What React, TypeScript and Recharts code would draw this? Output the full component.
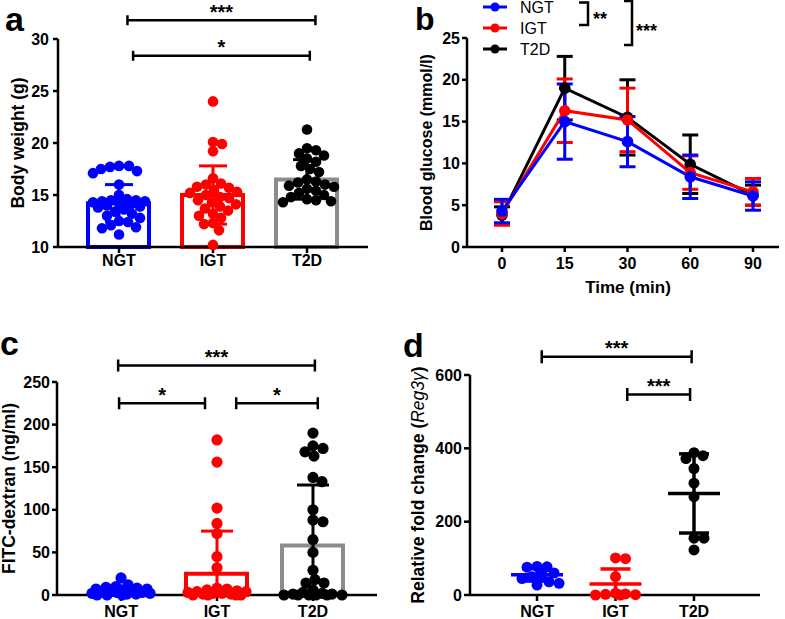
import React from "react";
import {
  Bar,
  Cell,
  ComposedChart,
  ErrorBar,
  Label,
  Legend,
  Line,
  LineChart,
  ReferenceLine,
  Scatter,
  XAxis,
  YAxis,
} from "recharts";

const groups = ["NGT", "IGT", "T2D"];
const dotColors = ["#0000ff", "#ff0000", "#000000"];
const barColors = ["#0000ff", "#ff0000", "#8c8c8c"];

// a: body weight (g)
const weightNGT = [17.8, 17.8, 17.7, 17.5, 17.3, 17.1, 16.0, 15.0, 14.6, 14.5, 14.5, 14.4, 14.4, 14.3, 14.2, 14.1, 14.0, 13.9, 13.8, 13.6, 13.4, 13.2, 13.0, 12.8, 12.5, 12.4, 12.1, 11.9, 11.8, 11.2];
const weightIGT = [24.0, 20.1, 19.9, 19.2, 16.6, 16.1, 16.0, 15.8, 15.7, 15.5, 15.3, 15.2, 15.0, 14.8, 14.7, 14.5, 14.3, 14.1, 13.9, 13.7, 13.5, 13.2, 13.0, 12.8, 12.3, 12.2, 11.6, 10.2];
const weightT2D = [21.3, 19.5, 19.3, 19.0, 18.8, 18.5, 18.2, 17.8, 17.5, 17.2, 16.5, 16.3, 16.2, 16.0, 15.9, 15.8, 15.6, 15.4, 15.2, 15.0, 14.8, 14.6, 14.5, 14.4, 14.3];
const weightMean = [14.2, 15.0, 16.5];
const weightSd = [1.8, 2.8, 1.9];

// b: blood glucose during OGTT (mmol/l)
const ogttTimes = ["0", "15", "30", "60", "90"];
const glucoseNGT = [4.3, 15.0, 12.6, 8.4, 6.1];
const glucoseNGTSd = [1.4, 4.5, 3.0, 2.6, 1.7];
const glucoseIGT = [4.0, 16.3, 15.2, 8.9, 6.6];
const glucoseIGTSd = [1.4, 3.8, 3.8, 2.0, 1.6];
const glucoseT2D = [3.8, 19.0, 15.5, 9.9, 6.2];
const glucoseT2DSd = [1.0, 3.8, 4.5, 3.5, 1.2];

// c: FITC-dextran (ng/ml)
const fitcNGT = [20, 12, 10, 9, 8, 7, 7, 6, 5, 5, 4, 3, 3, 2, 2, 1, 1, 0, 0, 0];
const fitcIGT = [182, 156, 102, 84, 72, 45, 32, 8, 7, 6, 5, 4, 4, 3, 2, 2, 1, 1, 0, 0, 0, 0];
const fitcT2D = [190, 175, 172, 168, 163, 138, 133, 100, 88, 86, 65, 50, 29, 18, 14, 14, 6, 3, 2, 1, 1, 0, 0, 0, 0, 0, 0];
const fitcMean = [4, 25, 58];
const fitcSd = [5, 50, 71];

// d: Reg3g relative fold change
const reg3NGT = [78, 77, 76, 60, 55, 50, 45, 36, 32, 27];
const reg3IGT = [101, 99, 50, 5, 3, 2, 1, 0, 0];
const reg3T2D = [388, 380, 372, 345, 305, 268, 155, 155, 123];
const reg3Mean = [55, 30, 277];
const reg3Sd = [17, 41, 108];

// significance brackets (group index from/to, y in data units)
const bracketsA = [
  { from: 0.09, to: 2.09, y: 31.8, label: "***" },
  { from: 0.15, to: 2.03, y: 28.4, label: "*" },
];
const bracketsC = [
  { from: -0.03, to: 2.02, y: 269.5, label: "***" },
  { from: -0.02, to: 0.875, y: 225, label: "*" },
  { from: 1.2, to: 2.05, y: 225, label: "*" },
];
const bracketsD = [
  { from: 0.06, to: 1.97, y: 650, label: "***" },
  { from: 1.15, to: 1.95, y: 547, label: "***" },
];

const axisLine = { stroke: "#000", strokeWidth: 2.5 };
const tickStyle = { fill: "#000", fontSize: 16, fontWeight: 700 };

// simple beeswarm so dots with close values spread sideways
function swarm(values: number[], center: number, pxY: number, pxX: number, r: number, maxHalf: number) {
  const placed: { dx: number; py: number }[] = [];
  return values.map((v) => {
    const py = v * pxY;
    let chosen: number | null = null;
    let bestDx = 0;
    let bestGap = -1;
    for (let k = 0; k <= maxHalf && chosen === null; k += 1) {
      for (const dx of k === 0 ? [0] : [k, -k]) {
        let gap = Infinity;
        for (const p of placed) gap = Math.min(gap, Math.hypot(p.dx - dx, p.py - py));
        if (gap >= 2 * r * 0.85) {
          chosen = dx;
          break;
        }
        if (gap > bestGap) {
          bestGap = gap;
          bestDx = dx;
        }
      }
    }
    const dx = chosen === null ? bestDx : chosen;
    placed.push({ dx, py });
    return { x: center + dx / pxX, y: v };
  });
}

const dotShape = (color: string, r: number) => (props: any) => (
  <circle cx={props.cx} cy={props.cy} r={r} fill={color} />
);
const emptyShape = () => <g />;
const meanShape = (color: string) => (props: any) => (
  <line x1={props.cx - 26} x2={props.cx + 26} y1={props.cy} y2={props.cy} stroke={color} strokeWidth={3.5} />
);

const bracketShape = (label: string, cap: number) => (p: any) => (
  <g>
    <path
      d={`M${p.x1},${p.y1 - cap}V${p.y1 + cap}M${p.x1},${p.y1}H${p.x2}M${p.x2},${p.y2 - cap}V${p.y2 + cap}`}
      stroke="#000"
      strokeWidth={2.5}
      fill="none"
    />
    <text x={(p.x1 + p.x2) / 2} y={p.y1 - 1.5} textAnchor="middle" fontSize={20} fontWeight={700} fill="#000">
      {label}
    </text>
  </g>
);

const yLabel = (text: React.ReactNode, cx: number, fontSize = 17.5) => (props: any) => {
  const vb = props.viewBox;
  const x = vb.x + cx;
  const y = vb.y + vb.height / 2;
  return (
    <text
      x={x}
      y={y}
      transform={`rotate(-90, ${x}, ${y})`}
      textAnchor="middle"
      dominantBaseline="central"
      fontSize={fontSize}
      fontWeight={700}
      fill="#000"
    >
      {text}
    </text>
  );
};

interface PanelLayout {
  w: number;
  h: number;
  top: number;
  bottom: number;
  yAxisW: number;
  right: number;
  yDomain: [number, number];
  xDomain: [number, number];
  yTicks: number[];
  yTickSize: number;
  yTickMargin: number;
  xTickSize: number;
  xTickMargin: number;
  r: number;
  spread: number;
  cap: number;
  bracketCap: number;
}

interface DotPanelProps {
  p: PanelLayout;
  values: number[][];
  means: number[];
  sds: number[];
  bars: boolean;
  brackets: { from: number; to: number; y: number; label: string }[];
  label: (props: any) => React.ReactNode;
}

function DotPanel({ p, values, means, sds, bars, brackets, label }: DotPanelProps) {
  const pxY = (p.h - p.top - p.bottom) / (p.yDomain[1] - p.yDomain[0]);
  const pxX = (p.w - p.yAxisW - p.right) / (p.xDomain[1] - p.xDomain[0]);
  // hidden band axis for the bars, lined up with the numeric one
  const padLeft = -p.xDomain[0] * pxX - pxX / 2;
  const padRight = (p.xDomain[1] - 2) * pxX - pxX / 2;
  const barRows = means.map((m, i) => ({ name: groups[i], mean: m }));
  const dots = values.map((vals, i) => swarm(vals, i, pxY, pxX, p.r, p.spread));
  const stats = means.map((m, i) => [
    { x: i, y: m, err: [Math.min(sds[i], m - p.yDomain[0]), sds[i]] },
  ]);

  return (
    <ComposedChart
      width={p.w}
      height={p.h}
      data={barRows}
      margin={{ top: p.top, right: p.right, bottom: 0, left: 0 }}
    >
      <XAxis
        type="number"
        dataKey="x"
        domain={p.xDomain}
        ticks={[0, 1, 2]}
        interval={0}
        tickFormatter={(v: number) => groups[v]}
        height={p.bottom}
        axisLine={axisLine}
        tickLine={axisLine}
        tickSize={p.xTickSize}
        tickMargin={p.xTickMargin}
        tick={tickStyle}
      />
      <XAxis
        xAxisId="bars"
        type="category"
        dataKey="name"
        hide
        padding={{ left: padLeft, right: padRight }}
      />
      <YAxis
        type="number"
        domain={p.yDomain}
        ticks={p.yTicks}
        interval={0}
        width={p.yAxisW}
        axisLine={axisLine}
        tickLine={axisLine}
        tickSize={p.yTickSize}
        tickMargin={p.yTickMargin}
        tick={tickStyle}
      >
        <Label content={label} />
      </YAxis>
      {bars && (
        <Bar xAxisId="bars" dataKey="mean" barSize={61} fill="none" strokeWidth={4} isAnimationActive={false}>
          {means.map((_m, i) => (
            <Cell key={i} stroke={barColors[i]} fill="none" />
          ))}
        </Bar>
      )}
      {dots.map((d, i) => (
        <Scatter key={`d${i}`} data={d} dataKey="y" shape={dotShape(dotColors[i], p.r)} isAnimationActive={false} />
      ))}
      {stats.map((s, i) => (
        <Scatter
          key={`s${i}`}
          data={s}
          dataKey="y"
          shape={bars ? emptyShape : meanShape(dotColors[i])}
          isAnimationActive={false}
        >
          <ErrorBar dataKey="err" direction="y" width={p.cap} strokeWidth={bars ? 3 : 3.5} stroke={dotColors[i]} />
        </Scatter>
      ))}
      {brackets.map((b, i) => (
        <ReferenceLine
          key={`b${i}`}
          segment={[
            { x: b.from, y: b.y },
            { x: b.to, y: b.y },
          ]}
          ifOverflow="visible"
          shape={bracketShape(b.label, p.bracketCap)}
        />
      ))}
    </ComposedChart>
  );
}

const layoutA: PanelLayout = {
  w: 390, h: 300, top: 39, bottom: 53, yAxisW: 58, right: 22,
  yDomain: [10, 30], xDomain: [-0.649, 2.649], yTicks: [10, 15, 20, 25, 30],
  yTickSize: 5, yTickMargin: 4, xTickSize: 6, xTickMargin: 2,
  r: 5.3, spread: 28, cap: 14, bracketCap: 5,
};
const layoutC: PanelLayout = {
  w: 390, h: 319, top: 82, bottom: 24, yAxisW: 57, right: 13,
  yDomain: [0, 250], xDomain: [-0.667, 2.667], yTicks: [0, 50, 100, 150, 200, 250],
  yTickSize: 5, yTickMargin: 2, xTickSize: 6, xTickMargin: 5,
  r: 5.6, spread: 29, cap: 16, bracketCap: 6,
};
const layoutD: PanelLayout = {
  w: 395, h: 319, top: 75, bottom: 24, yAxisW: 80, right: 25,
  yDomain: [0, 600], xDomain: [-0.854, 2.841], yTicks: [0, 200, 400, 600],
  yTickSize: 6, yTickMargin: 2, xTickSize: 6, xTickMargin: 5,
  r: 5.5, spread: 22, cap: 15, bracketCap: 6.5,
};

const ogttRows = ogttTimes.map((t, i) => ({
  time: t,
  ngt: glucoseNGT[i],
  ngtSd: glucoseNGTSd[i],
  igt: glucoseIGT[i],
  igtSd: glucoseIGTSd[i],
  t2d: glucoseT2D[i],
  t2dSd: glucoseT2DSd[i],
}));

const glucoseLegend = () => (
  <svg width={200} height={58} style={{ display: "block", overflow: "visible" }}>
    {groups.map((g, i) => {
      const y = 7 + i * 21;
      return (
        <g key={g}>
          <line x1={3} x2={27} y1={y} y2={y} stroke={dotColors[i]} strokeWidth={3} />
          <circle cx={15} cy={y} r={4.5} fill={dotColors[i]} />
          <text x={40} y={y} dominantBaseline="central" fontSize={16} fill="#000">
            {g}
          </text>
        </g>
      );
    })}
    <path d="M99,2.5H108V25H99" stroke="#000" strokeWidth={2.5} fill="none" />
    <text x={113} y={25} fontSize={18} fontWeight={700} fill="#000">**</text>
    <path d="M144,1H152V45H144" stroke="#000" strokeWidth={2.5} fill="none" />
    <text x={156} y={36.5} fontSize={18} fontWeight={700} fill="#000">***</text>
  </svg>
);

const timeLabel = (props: any) => {
  const vb = props.viewBox;
  return (
    <text x={vb.x + vb.width / 2 + 5} y={vb.y + 46} textAnchor="middle" fontSize={17} fontWeight={700} fill="#000">
      Time (min)
    </text>
  );
};

function GlucosePanel() {
  const series = [
    { key: "t2d", color: dotColors[2] },
    { key: "igt", color: dotColors[1] },
    { key: "ngt", color: dotColors[0] },
  ];
  return (
    <LineChart width={395} height={300} data={ogttRows} margin={{ top: 38, right: 6, bottom: 0, left: 0 }}>
      <XAxis
        dataKey="time"
        padding={{ left: 35, right: 26 }}
        height={53}
        axisLine={axisLine}
        tickLine={axisLine}
        tickSize={5}
        tickMargin={6}
        tick={tickStyle}
        interval={0}
      >
        <Label content={timeLabel} />
      </XAxis>
      <YAxis
        type="number"
        domain={[0, 25]}
        ticks={[0, 5, 10, 15, 20, 25]}
        interval={0}
        width={77}
        axisLine={axisLine}
        tickLine={axisLine}
        tickSize={5}
        tickMargin={2}
        tick={tickStyle}
      >
        <Label content={yLabel("Blood glucose (mmol/l)", 36.5, 16)} />
      </YAxis>
      <Legend
        layout="vertical"
        align="center"
        verticalAlign="middle"
        wrapperStyle={{ left: 90, top: 0, width: 200, height: 58 }}
        content={glucoseLegend}
      />
      {series.map((s) => (
        <Line
          key={s.key}
          dataKey={s.key}
          stroke={s.color}
          strokeWidth={3}
          dot={{ r: 5.8, fill: s.color, stroke: s.color, strokeWidth: 0 }}
          isAnimationActive={false}
        >
          <ErrorBar dataKey={`${s.key}Sd`} direction="y" width={8} strokeWidth={3} stroke={s.color} />
        </Line>
      ))}
    </LineChart>
  );
}

export default function App() {
  return (
    <div
      style={{
        position: "absolute",
        left: 0,
        top: 0,
        width: 785,
        height: 619,
        background: "#fff",
        overflow: "hidden",
        fontFamily: "'Liberation Sans', Arial, Helvetica, sans-serif",
      }}
    >
      <div style={{ position: "absolute", left: 0, top: 0 }}>
        <DotPanel
          p={layoutA}
          values={[weightNGT, weightIGT, weightT2D]}
          means={weightMean}
          sds={weightSd}
          bars
          brackets={bracketsA}
          label={yLabel("Body weight (g)", 18)}
        />
      </div>
      <div style={{ position: "absolute", left: 390, top: 0 }}>
        <GlucosePanel />
      </div>
      <div style={{ position: "absolute", left: 0, top: 300 }}>
        <DotPanel
          p={layoutC}
          values={[fitcNGT, fitcIGT, fitcT2D]}
          means={fitcMean}
          sds={fitcSd}
          bars
          brackets={bracketsC}
          label={yLabel("FITC-dextran (ng/ml)", 9)}
        />
      </div>
      <div style={{ position: "absolute", left: 390, top: 300 }}>
        <DotPanel
          p={layoutD}
          values={[reg3NGT, reg3IGT, reg3T2D]}
          means={reg3Mean}
          sds={reg3Sd}
          bars={false}
          brackets={bracketsD}
          label={yLabel(
            <>
              Relative fold change (
              <tspan fontStyle="italic" fontWeight={400}>
                Reg3γ
              </tspan>
              )
            </>,
            28
          )}
        />
      </div>
      <svg
        width={785}
        height={619}
        style={{ position: "absolute", left: 0, top: 0, pointerEvents: "none" }}
      >
        <text x={5} y={31} fontSize={34} fontWeight={700}>a</text>
        <text x={415} y={30} fontSize={32} fontWeight={700}>b</text>
        <text x={0} y={355} fontSize={34} fontWeight={700}>c</text>
        <text x={403} y={357} fontSize={34} fontWeight={700}>d</text>
      </svg>
    </div>
  );
}
